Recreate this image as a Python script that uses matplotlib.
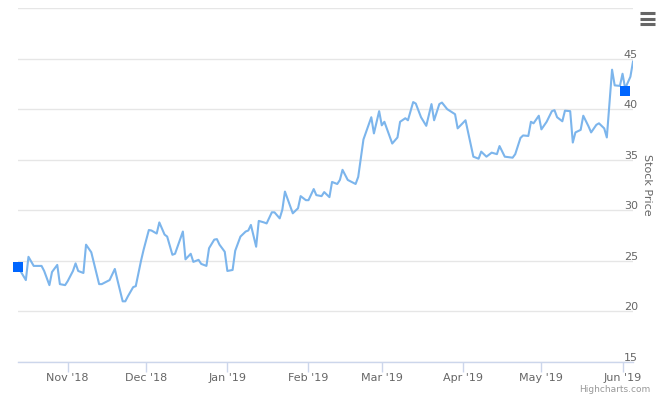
"""Stock price line chart, Highcharts look."""
import matplotlib
matplotlib.use("Agg")
import matplotlib.pyplot as plt
import matplotlib.transforms as mtransforms
from matplotlib.lines import Line2D
import pandas as pd

# values
dates = [
    "2018-10-13", "2018-10-16", "2018-10-17", "2018-10-19", "2018-10-22", "2018-10-23",
    "2018-10-25", "2018-10-26", "2018-10-28", "2018-10-29", "2018-10-31", "2018-11-01",
    "2018-11-03", "2018-11-04", "2018-11-05", "2018-11-07", "2018-11-08", "2018-11-10",
    "2018-11-13", "2018-11-14", "2018-11-17", "2018-11-19", "2018-11-20", "2018-11-22",
    "2018-11-23", "2018-11-24", "2018-11-26", "2018-11-27", "2018-11-29", "2018-11-30",
    "2018-12-02", "2018-12-03", "2018-12-05", "2018-12-06", "2018-12-08", "2018-12-09",
    "2018-12-11", "2018-12-12", "2018-12-15", "2018-12-16", "2018-12-18", "2018-12-19",
    "2018-12-21", "2018-12-22", "2018-12-24", "2018-12-25", "2018-12-27", "2018-12-28",
    "2018-12-29", "2018-12-31", "2019-01-01", "2019-01-03", "2019-01-04", "2019-01-06",
    "2019-01-08", "2019-01-09", "2019-01-10", "2019-01-12", "2019-01-13", "2019-01-15",
    "2019-01-16", "2019-01-18", "2019-01-19", "2019-01-21", "2019-01-22", "2019-01-23",
    "2019-01-26", "2019-01-28", "2019-01-29", "2019-01-31", "2019-02-01", "2019-02-03",
    "2019-02-04", "2019-02-06", "2019-02-07", "2019-02-09", "2019-02-10", "2019-02-12",
    "2019-02-13", "2019-02-14", "2019-02-16", "2019-02-19", "2019-02-20", "2019-02-22",
    "2019-02-25", "2019-02-26", "2019-02-28", "2019-03-01", "2019-03-02", "2019-03-04",
    "2019-03-05", "2019-03-07", "2019-03-08", "2019-03-10", "2019-03-11", "2019-03-13",
    "2019-03-14", "2019-03-16", "2019-03-18", "2019-03-20", "2019-03-21", "2019-03-23",
    "2019-03-24", "2019-03-26", "2019-03-29", "2019-03-30", "2019-04-02", "2019-04-05",
    "2019-04-07", "2019-04-08", "2019-04-10", "2019-04-12", "2019-04-14", "2019-04-15",
    "2019-04-17", "2019-04-20", "2019-04-21", "2019-04-23", "2019-04-24", "2019-04-26",
    "2019-04-27", "2019-04-28", "2019-04-30", "2019-05-01", "2019-05-03", "2019-05-05",
    "2019-05-06", "2019-05-07", "2019-05-09", "2019-05-10", "2019-05-12", "2019-05-13",
    "2019-05-14", "2019-05-16", "2019-05-17", "2019-05-19", "2019-05-20", "2019-05-22",
    "2019-05-23", "2019-05-25", "2019-05-26", "2019-05-28", "2019-05-29", "2019-05-31",
    "2019-06-01", "2019-06-02", "2019-06-04", "2019-06-05",
]
prices = [
    24.4, 23.1, 25.4, 24.5, 24.5, 24.0,
    22.6, 23.9, 24.6, 22.7, 22.6, 23.0,
    24.0, 24.75, 24.0, 23.8, 26.6, 25.85,
    22.7, 22.7, 23.1, 24.2, 23.1, 21.0,
    21.0, 21.5, 22.4, 22.5, 25.0, 26.1,
    28.05, 28.0, 27.7, 28.8, 27.6, 27.4,
    25.6, 25.7, 27.9, 25.15, 25.7, 24.9,
    25.1, 24.7, 24.5, 26.25, 27.1, 27.15,
    26.6, 25.9, 24.0, 24.1, 26.0, 27.4,
    27.9, 28.0, 28.55, 26.4, 28.95, 28.8,
    28.7, 29.8, 29.8, 29.2, 30.05, 31.85,
    29.7, 30.2, 31.4, 31.0, 31.0, 32.1,
    31.5, 31.4, 31.8, 31.3, 32.8, 32.6,
    33.0, 34.0, 33.0, 32.6, 33.3, 37.0,
    39.2, 37.6, 39.8, 38.4, 38.75, 37.3,
    36.6, 37.2, 38.75, 39.1, 38.9, 40.7,
    40.55, 39.2, 38.35, 40.5, 38.9, 40.5,
    40.65, 40.0, 39.5, 38.1, 38.9, 35.3,
    35.1, 35.8, 35.3, 35.7, 35.55, 36.35,
    35.3, 35.2, 35.55, 37.15, 37.4, 37.35,
    38.75, 38.6, 39.35, 38.0, 38.75, 39.8,
    39.9, 39.2, 38.8, 39.85, 39.8, 36.7,
    37.7, 37.95, 39.35, 38.3, 37.7, 38.45,
    38.6, 38.1, 37.2, 43.9, 42.35, 42.3,
    43.5, 42.05, 43.2, 44.7,
]
marker_dates = ["2018-10-13", "2019-06-02"]
marker_prices = [24.35, 41.8]

y_ticks = [15, 20, 25, 30, 35, 40, 45, 50]
month_ticks = ["2018-11-01", "2018-12-01", "2019-01-01", "2019-02-01",
               "2019-03-01", "2019-04-01", "2019-05-01", "2019-06-01"]
month_labels = ["Nov '18", "Dec '18", "Jan '19", "Feb '19",
                "Mar '19", "Apr '19", "May '19", "Jun '19"]

x = pd.to_datetime(dates)
mx = pd.to_datetime(marker_dates)

fig = plt.figure(figsize=(6.6, 4.0), dpi=100)
ax = fig.add_axes([18 / 660, 1 - 362 / 400, 615 / 660, 354 / 400])

ax.plot(x, prices, color="#7cb5ec", linewidth=1.5, solid_joinstyle="round", zorder=3)
ax.plot(mx, marker_prices, linestyle="none", marker="s", markersize=7.2,
        color="#0066ff", markeredgewidth=0, clip_on=False, zorder=4)

ax.set_xlim(x[0], x[-1])
ax.set_ylim(15, 50)

# y axis: gridlines, labels inside on the right, just above the lines
ax.set_yticks(y_ticks)
ax.yaxis.grid(True, color="#e6e6e6", linewidth=1)
ax.tick_params(axis="y", left=False, right=False, labelleft=False, labelright=True,
               pad=0, labelsize=8, labelcolor="#666666")
shift = mtransforms.ScaledTranslation(0, -0.7 / 72, fig.dpi_scale_trans)
for lbl in ax.get_yticklabels():
    lbl.set_horizontalalignment("right")
    lbl.set_verticalalignment("bottom")
    lbl.set_transform(lbl.get_transform() + shift)
    if lbl.get_text() == "50":
        lbl.set_visible(False)

ax.set_xticks(pd.to_datetime(month_ticks))
ax.set_xticklabels(month_labels)
ax.tick_params(axis="x", length=7.2, width=1, color="#ccd6eb", pad=1,
               labelsize=8, labelcolor="#666666")

for side in ["top", "left", "right"]:
    ax.spines[side].set_visible(False)
ax.spines["bottom"].set_color("#ccd6eb")
ax.spines["bottom"].set_linewidth(1)

fig.text(647 / 660, 1 - 185 / 400, "Stock Price", rotation=270, ha="center",
         va="center", fontsize=8, color="#666666")

# credits and menu icon
fig.text(650 / 660, 1 - 390 / 400, "Highcharts.com", ha="right", va="center",
         fontsize=6.5, color="#999999")
for yy in [13, 18.5, 24]:
    fig.add_artist(Line2D([640 / 660, 655 / 660], [1 - yy / 400, 1 - yy / 400],
                          color="#666666", linewidth=2.2, solid_capstyle="butt"))

fig.savefig("out.png", dpi=100)
